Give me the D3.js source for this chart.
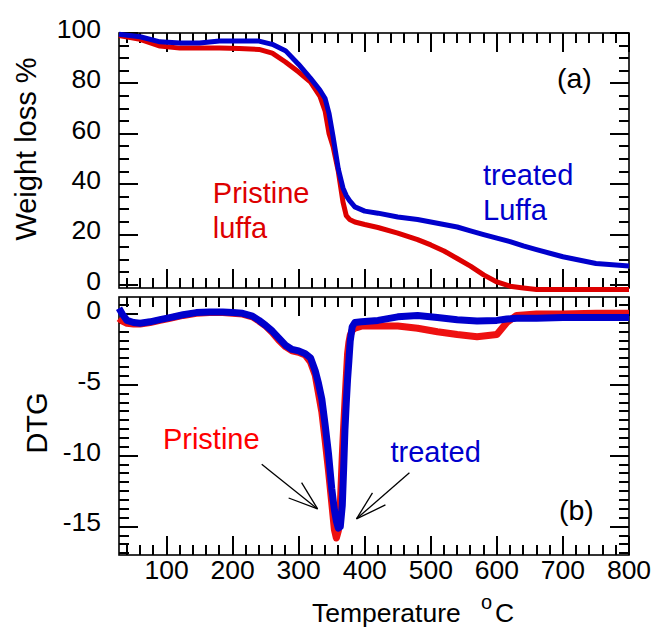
<!DOCTYPE html>
<html><head><meta charset="utf-8">
<script src="https://cdn.jsdelivr.net/npm/d3@7"></script>
<style>body{margin:0;background:#fff}</style>
</head><body>
<svg id="c" width="655" height="629"></svg>
<script>
// ---------- DATA ----------
const tgaTemp     = [28, 60, 90, 120, 150, 180, 210, 240, 260, 280, 300, 318, 332, 340, 346, 352, 360, 367, 372, 377, 385, 400, 420, 450, 480, 500, 520, 540, 560, 580, 600, 620, 640, 660, 700, 750, 800];
const tgaPristine = [99, 97.5, 94.8, 94, 94, 94, 93.8, 93.5, 92, 88.5, 84.5, 80.5, 75, 69, 60, 55, 45, 33, 27.5, 26, 25, 24, 22.8, 20.6, 18, 15.9, 13.5, 10.5, 7.5, 4, 1.2, -0.5, -1.2, -1.8, -1.8, -1.8, -1.8];
const tgaTreated  = [99.5, 98.5, 96.5, 96, 96, 96.8, 96.8, 96.8, 95.5, 93, 87.5, 82, 77.4, 74, 68, 59, 46, 38.5, 35.5, 33.5, 31, 29.3, 28.5, 27, 26, 25, 24, 23, 21.5, 20, 18.6, 17.2, 15.5, 14, 11.2, 8.5, 7.5];

const dtgTemp     = [28, 33, 40, 50, 60, 75, 90, 105, 125, 145, 165, 185, 200, 215, 230, 240, 250, 260, 270, 280, 290, 300, 310, 318, 325, 330, 335, 340, 345, 350, 354, 357, 360, 363, 366, 368, 370, 372, 374, 376, 378, 381, 385, 395, 420, 450, 480, 510, 540, 570, 600, 615, 630, 660, 700, 750, 800];
const dtgPristine = [-0.3, -0.5, -0.65, -0.7, -0.7, -0.6, -0.45, -0.3, -0.1, 0.05, 0.1, 0.1, 0.05, 0, -0.2, -0.5, -0.85, -1.3, -1.85, -2.3, -2.6, -2.7, -2.9, -3.4, -4.3, -5.6, -6.9, -8.9, -11.0, -13.3, -15.2, -15.8, -15.3, -13.5, -10.0, -8.0, -6.2, -4.5, -2.8, -2.0, -1.5, -1.15, -1.0, -0.85, -0.85, -0.85, -1.0, -1.25, -1.45, -1.6, -1.45, -0.6, -0.1, 0, 0, 0.05, 0.05];
const dtgTreated  = [0.4, 0.0, -0.45, -0.6, -0.65, -0.55, -0.4, -0.25, -0.05, 0.1, 0.15, 0.15, 0.1, 0.05, -0.15, -0.45, -0.8, -1.2, -1.7, -2.2, -2.5, -2.6, -2.8, -3.1, -4.0, -4.9, -6.0, -7.8, -9.8, -12.3, -13.8, -14.6, -15.1, -15.0, -13.5, -11.0, -8.2, -6.3, -4.6, -3.3, -1.9, -0.9, -0.6, -0.55, -0.45, -0.2, -0.1, -0.25, -0.4, -0.5, -0.45, -0.35, -0.3, -0.3, -0.25, -0.25, -0.25];

const xTickValues = [100, 200, 300, 400, 500, 600, 700, 800];
const wTickValues = [0, 20, 40, 60, 80, 100];
const dTickValues = [0, -5, -10, -15];

// ---------- LAYOUT ----------
const RED = "#dd0000", BLUE = "#0000cc";
const FONT = "'Liberation Sans', Arial, Helvetica, sans-serif";
const svg = d3.select("#c");
const x  = d3.scaleLinear().domain([28, 800]).range([119, 629]);
const yW = d3.scaleLinear().domain([-1.2, 100]).range([288, 33]);
const yD = d3.scaleLinear().domain([-17, 1.2]).range([555, 297]);

const xMinor = d3.range(40, 801, 20).filter(v => v % 100 !== 0);
const wMinor = d3.range(0, 101, 5).filter(v => v % 20 !== 0);
const dMinor = d3.range(0, 69).map(i => 1.25 - i * 0.625).filter(v => v <= 1.2 && v >= -17 && Math.abs(v % 5) > 1e-9);

function tickRects(g, vals, len, vertical, pos, dir, scale) {
  g.selectAll(null).data(vals).enter().append("rect")
    .attr("x", d => vertical ? (dir > 0 ? pos : pos - len) : Math.round(scale(d)) - 1)
    .attr("y", d => vertical ? Math.round(scale(d)) - 1 : (dir > 0 ? pos : pos - len))
    .attr("width", vertical ? len : 2)
    .attr("height", vertical ? 2 : len)
    .attr("fill", "#000");
}

function panel(y, yMajor, yMinorVals, top, bottom, showX) {
  const L = x.range()[0], R = x.range()[1];
  const g = svg.append("g");
  tickRects(g, yMajor, 19, true, L, 1, y);
  tickRects(g, yMinorVals, 10, true, L, 1, y);
  tickRects(g, yMajor, 19, true, R, -1, y);
  tickRects(g, yMinorVals, 10, true, R, -1, y);
  tickRects(g, xTickValues, 19, false, bottom, -1, x);
  tickRects(g, xMinor, 10, false, bottom, -1, x);
  tickRects(g, xTickValues, 19, false, top, 1, x);
  tickRects(g, xMinor, 10, false, top, 1, x);
  g.append("rect").attr("x", L).attr("y", top).attr("width", R - L).attr("height", bottom - top)
    .attr("fill", "none").attr("stroke", "#000").attr("stroke-width", 1.6);
  g.selectAll(null).data(yMajor).enter().append("text")
    .attr("x", L - 18).attr("y", d => y(d)).attr("dy", "0.18em")
    .attr("text-anchor", "end").attr("font-family", FONT).attr("font-size", 26.5)
    .text(d => String(d));
  if (showX) {
    g.selectAll(null).data(xTickValues).enter().append("text")
      .attr("x", d => x(d)).attr("y", bottom + 24)
      .attr("text-anchor", "middle").attr("font-family", FONT).attr("font-size", 26.5)
      .text(d => String(d));
  }
}

panel(yW, wTickValues, wMinor, 33, 288, false);
panel(yD, dTickValues, dMinor, 297, 555, true);

// ---------- TGA lines ----------
const lineW = d3.line().x((d, i) => x(tgaTemp[i])).y(d => yW(d));
svg.append("path").datum(tgaPristine).attr("d", lineW)
  .attr("fill", "none").attr("stroke", RED).attr("stroke-width", 5).attr("stroke-linejoin", "round");
svg.append("path").datum(tgaTreated).attr("d", lineW)
  .attr("fill", "none").attr("stroke", BLUE).attr("stroke-width", 5).attr("stroke-linejoin", "round");

// ---------- DTG lines ----------
const lineD = d3.line().x((d, i) => x(dtgTemp[i])).y(d => yD(d));
svg.append("path").datum(dtgPristine).attr("d", lineD)
  .attr("fill", "none").attr("stroke", "#ee1111").attr("stroke-width", 7).attr("stroke-linejoin", "round");
svg.append("path").datum(dtgTreated).attr("d", lineD)
  .attr("fill", "none").attr("stroke", BLUE).attr("stroke-width", 7).attr("stroke-linejoin", "round");

// ---------- Text ----------
function label(px, py, txt, color, size, anchor) {
  svg.append("text").attr("x", px).attr("y", py).text(txt)
    .attr("fill", color).attr("font-family", FONT).attr("font-size", size)
    .attr("text-anchor", anchor || "start");
}
label(x(170), yW(32.6), "Pristine", RED, 29);
label(x(170), yW(18.7), "luffa", RED, 29);
label(x(579), yW(39.7), "treated", BLUE, 29);
label(x(579), yW(25.9), "Luffa", BLUE, 29);
label(x(691), yW(78.2), "(a)", "#000", 28.5);
label(x(94.5), yD(-9.52), "Pristine", "#ff0000", 29);
label(x(439), yD(-10.44), "treated", BLUE, 29);
label(x(694), yD(-14.5), "(b)", "#000", 28.5);

svg.append("text").attr("transform", "translate(36,149) rotate(-90)")
  .attr("text-anchor", "middle").attr("font-family", FONT).attr("font-size", 29).text("Weight loss %");
svg.append("text").attr("transform", "translate(47,423) rotate(-90)")
  .attr("text-anchor", "middle").attr("font-family", FONT).attr("font-size", 29).text("DTG");

const xt = svg.append("text").attr("font-family", FONT).attr("fill", "#000");
xt.append("tspan").attr("x", 312).attr("y", 622).attr("font-size", 26.5).text("Temperature");
xt.append("tspan").attr("x", 481).attr("y", 609).attr("font-size", 20).text("o");
xt.append("tspan").attr("x", 495).attr("y", 622).attr("font-size", 26.5).text("C");

// ---------- Arrows ----------
function arrow(t0, d0, t1, d1, h1, h2) {
  const g = svg.append("g").attr("stroke", "#000").attr("stroke-width", 1.3).attr("fill", "none");
  g.append("line").attr("x1", x(t0)).attr("y1", yD(d0)).attr("x2", x(t1)).attr("y2", yD(d1));
  g.append("line").attr("x1", x(h1[0])).attr("y1", yD(h1[1])).attr("x2", x(t1)).attr("y2", yD(d1));
  g.append("line").attr("x1", x(h2[0])).attr("y1", yD(h2[1])).attr("x2", x(t1)).attr("y2", yD(d1));
}
arrow(244, -10.6, 328.6, -13.75, [304.4, -11.9], [284.8, -12.98]);
arrow(467.6, -11.2, 387.5, -14.45, [411.7, -12.62], [431.3, -13.47]);
</script>
</body></html>
